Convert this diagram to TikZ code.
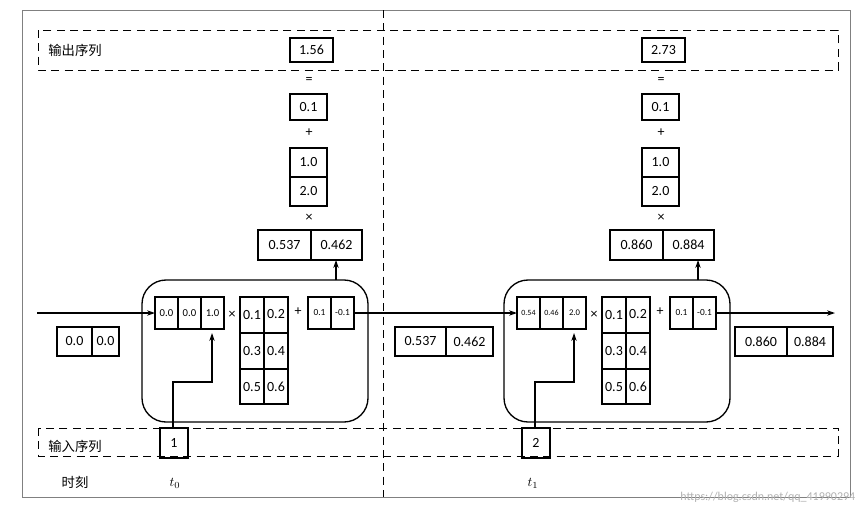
\documentclass[tikz,border=0pt]{standalone}
\usepackage{fontspec}
\setmainfont{Carlito}
\newfontfamily\cjk{Noto Sans CJK SC}
\usetikzlibrary{arrows.meta}
\begin{document}
\begin{tikzpicture}[x=0.75pt,y=-0.75pt,
  lb/.style={font=\fontsize{10.5}{12}\selectfont},
  sm/.style={font=\fontsize{7}{8}\selectfont},
  dsh/.style={draw,dashed,dash pattern=on 6pt off 4pt,line width=0.6pt},
  arr/.style={-{Stealth[length=6pt,width=4pt]},line width=0.9pt},
  cell/.style={draw,rounded corners=18pt,line width=1pt}]
\useasboundingbox (0,0) rectangle (863,514);
\fill[white] (0,0) rectangle (863,514);
\draw[gray,line width=0.6pt] (22,10) rectangle (850,497);
\draw[dsh] (383,10) -- (383,497);
\draw[dsh] (38,30) rectangle (838,70);
\draw[dsh] (38,428) rectangle (838,456);
\node[font=\cjk\fontsize{10}{12}\selectfont] (ol) at (75,50) {输出序列};
\node[font=\cjk\fontsize{10}{12}\selectfont] (il) at (75,446) {输入序列};
\node[font=\cjk\fontsize{10}{12}\selectfont] (tl) at (75,482) {时刻};
\node (t0) at (175,483) {$t_0$};
\node (t1) at (533,483) {$t_1$};
\node[gray!60,font=\fontsize{9}{10}\selectfont,anchor=east] (wm) at (860,497) {https://blog.csdn.net/qq\_41990294};
% output column
\foreach \s/\xo/\out/\oa/\ob in {L/0/1.56/0.537/0.462, R/352/2.73/0.860/0.884}{
 \begin{scope}[xshift=\xo*0.75pt]
 \draw[line width=0.8pt] (290,38) rectangle (333,62);
 \node[lb] (o\s) at (311.5,50) {\out};
 \node[lb] (eq\s) at (309,80) {=};
 \draw[line width=0.8pt] (290,94) rectangle (327,120);
 \node[lb] (b\s) at (308.5,107) {0.1};
 \node[lb] (p\s) at (309,133) {+};
 \draw[line width=0.8pt] (290,148) rectangle (327,206) (290,177)--(327,177);
 \node[lb] (wa\s) at (308.5,162.5) {1.0};
 \node[lb] (wb\s) at (308.5,191.5) {2.0};
 \node[lb] (x\s) at (309,218) {×};
 \draw[line width=0.8pt] (258,230) rectangle (362,260) (311,230)--(311,260);
 \node[lb] (ya\s) at (284.5,245) {\oa};
 \node[lb] (yb\s) at (336.5,245) {\ob};
 \end{scope}}
% cells
\foreach \s/\xo/\inp in {L/0/1, R/362/2}{
 \begin{scope}[xshift=\xo*0.75pt]
 \draw[cell] (142,280) rectangle (368,422);
 \draw[line width=0.8pt] (155,297) rectangle (224,329) (178,297)--(178,329) (201,297)--(201,329);
 \node[lb] (mx\s) at (232,315) {×};
 \draw[line width=0.8pt] (240,297) rectangle (288,404) (264,297)--(264,404) (240,333)--(288,333) (240,369)--(288,369);
 \node[lb] (m1\s) at (252,315) {0.1}; \node[lb] (m2\s) at (276,314) {0.2};
 \node[lb] (m3\s) at (252,351) {0.3}; \node[lb] (m4\s) at (276,351) {0.4};
 \node[lb] (m5\s) at (252,387) {0.5}; \node[lb] (m6\s) at (276,387) {0.6};
 \node[lb] (pl\s) at (298,312) {+};
 \draw[line width=0.8pt] (308,297) rectangle (354,329) (331,297)--(331,329);
 \node[sm] (c1\s) at (319.5,313) {0.1}; \node[sm] (c2\s) at (342.5,313) {-0.1};
 \draw[line width=0.8pt] (160,428) rectangle (188,458);
 \node[lb] (in\s) at (174,443) {\inp};
 \draw[arr] (336,280) -- (336,260);
 \draw[arr] (173,428) -- (173,382) -- (212,382) -- (212,333);
 \end{scope}}
\node[font=\fontsize{8}{9}\selectfont] (h1) at (166.5,313) {0.0};
\node[font=\fontsize{8}{9}\selectfont] (h2) at (189.5,313) {0.0};
\node[font=\fontsize{8}{9}\selectfont] (h3) at (212.5,313) {1.0};
\begin{scope}[xshift=362*0.75pt]
\node[font=\fontsize{6}{7}\selectfont] (g1) at (166.5,313) {0.54};
\node[font=\fontsize{6}{7}\selectfont] (g2) at (189.5,313) {0.46};
\node[font=\fontsize{6.5}{7}\selectfont] (g3) at (212.5,313) {2.0};
\end{scope}
\draw[arr] (37,313) -- (155,313);
\draw[arr] (354,313) -- (517,313);
\draw[arr] (716,313) -- (835,313);
% state boxes
\draw[line width=0.8pt] (57,327) rectangle (119,356) (92,327)--(92,356);
\node[lb] (s1) at (74.5,341.5) {0.0}; \node[lb] (s2) at (105.5,341.5) {0.0};
\draw[line width=0.8pt] (395,327) rectangle (493,356) (446,327)--(446,356);
\node[lb] (s3) at (420.5,341.5) {0.537}; \node[lb] (s4) at (469.5,341.5) {0.462};
\draw[line width=0.8pt] (735,327) rectangle (833,356) (787,327)--(787,356);
\node[lb] (s5) at (761,341.5) {0.860}; \node[lb] (s6) at (810,341.5) {0.884};
\end{tikzpicture}
\end{document}
